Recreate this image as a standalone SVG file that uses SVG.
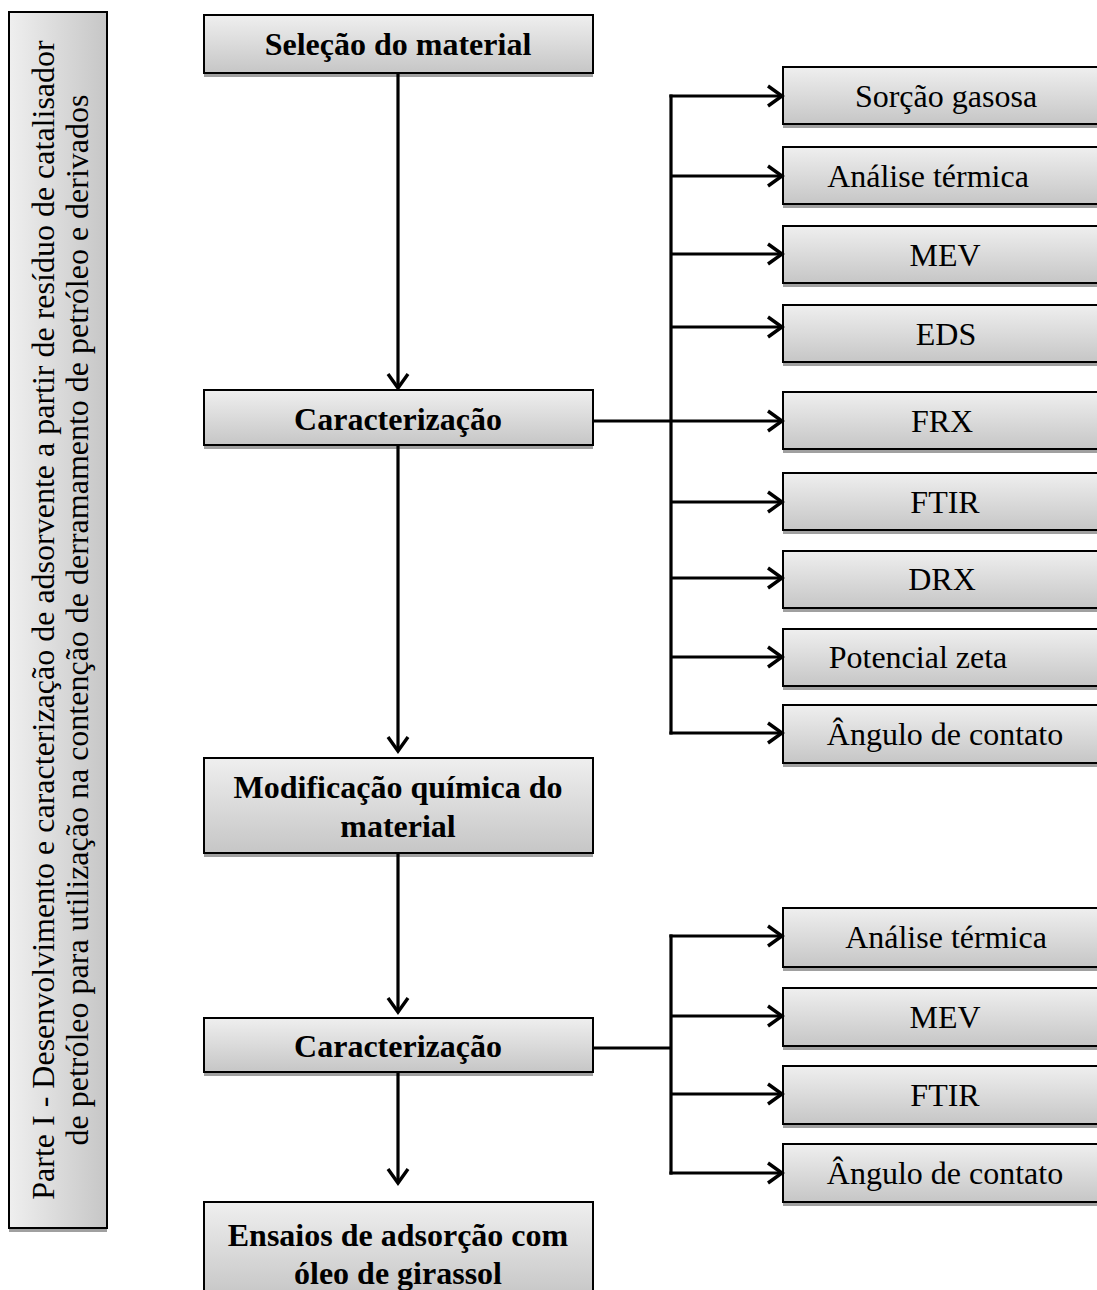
<svg xmlns="http://www.w3.org/2000/svg" width="1097" height="1290" viewBox="0 0 1097 1290">
  <defs>
    <linearGradient id="boxFill" x1="0" y1="0" x2="0" y2="1">
      <stop offset="0" stop-color="#efefef"/>
      <stop offset="1" stop-color="#c6c6c6"/>
    </linearGradient>
    <linearGradient id="sideFill" x1="0" y1="0" x2="1" y2="0">
      <stop offset="0" stop-color="#efefef"/>
      <stop offset="1" stop-color="#c6c6c6"/>
    </linearGradient>
    <marker id="chevron" markerUnits="userSpaceOnUse" viewBox="-17 -12 20 24" markerWidth="20" markerHeight="24" refX="0" refY="0" orient="auto">
      <path d="M-14,-10 L0,0 L-14,10" fill="none" stroke="#000" stroke-width="3.4" stroke-linejoin="miter"/>
    </marker>
  </defs>
  <style>
    .shadow { fill: #a0a0a0; }
    .box { fill: url(#boxFill); stroke: #000; stroke-width: 2; }
    .side { fill: url(#sideFill); stroke: #000; stroke-width: 2; }
    .bold { font-family: "Liberation Serif", "Times New Roman", serif; font-size: 32px; font-weight: bold; fill: #000; text-anchor: middle; }
    .reg { font-family: "Liberation Serif", "Times New Roman", serif; font-size: 32px; fill: #000; text-anchor: middle; }
    .conn { fill: none; stroke: #000; stroke-width: 3.2; }
    .arrow { fill: none; stroke: #000; stroke-width: 3.2; marker-end: url(#chevron); }
  </style>
  <rect width="1097" height="1290" fill="#fff"/>

  <!-- side title -->
  <g id="title">
    <rect class="shadow" x="9" y="16" width="98" height="1216"/>
    <rect class="side" x="9" y="12" width="98" height="1216"/>
    <text class="reg" font-size="32.3" transform="translate(54,620) rotate(-90)">Parte I - Desenvolvimento e caracterização de adsorvente a partir de resíduo de catalisador</text>
    <text class="reg" font-size="31.6" transform="translate(88,620) rotate(-90)">de petróleo para utilização na contenção de derramamento de petróleo e derivados</text>
  </g>

  <!-- main flow -->
  <g id="selecao">
    <rect class="shadow" x="204" y="19" width="389" height="58"/>
    <rect class="box" x="204" y="15" width="389" height="58"/>
    <text class="bold" x="398" y="55">Seleção do material</text>
  </g>
  <g id="caracterizacao1">
    <rect class="shadow" x="204" y="394" width="389" height="55"/>
    <rect class="box" x="204" y="390" width="389" height="55"/>
    <text class="bold" x="398" y="430">Caracterização</text>
  </g>
  <g id="modificacao">
    <rect class="shadow" x="204" y="762" width="389" height="95"/>
    <rect class="box" x="204" y="758" width="389" height="95"/>
    <text class="bold" x="398" y="798">Modificação química do</text>
    <text class="bold" x="398" y="837">material</text>
  </g>
  <g id="caracterizacao2">
    <rect class="shadow" x="204" y="1022" width="389" height="54"/>
    <rect class="box" x="204" y="1018" width="389" height="54"/>
    <text class="bold" x="398" y="1057">Caracterização</text>
  </g>
  <g id="ensaios">
    <rect class="shadow" x="204" y="1206" width="389" height="95"/>
    <rect class="box" x="204" y="1202" width="389" height="95"/>
    <text class="bold" x="398" y="1246">Ensaios de adsorção com</text>
    <text class="bold" x="398" y="1284">óleo de girassol</text>
  </g>

  <!-- techniques, first characterization -->
  <g id="t1-sorcao">
    <rect class="shadow" x="783" y="71" width="320" height="57"/>
    <rect class="box" x="783" y="67" width="320" height="57"/>
    <text class="reg" x="946" y="107">Sorção gasosa</text>
  </g>
  <g id="t1-termica">
    <rect class="shadow" x="783" y="151" width="320" height="57"/>
    <rect class="box" x="783" y="147" width="320" height="57"/>
    <text class="reg" x="928" y="187">Análise térmica</text>
  </g>
  <g id="t1-mev">
    <rect class="shadow" x="783" y="230" width="320" height="57"/>
    <rect class="box" x="783" y="226" width="320" height="57"/>
    <text class="reg" x="945" y="266">MEV</text>
  </g>
  <g id="t1-eds">
    <rect class="shadow" x="783" y="309" width="320" height="57"/>
    <rect class="box" x="783" y="305" width="320" height="57"/>
    <text class="reg" x="946" y="345">EDS</text>
  </g>
  <g id="t1-frx">
    <rect class="shadow" x="783" y="396" width="320" height="57"/>
    <rect class="box" x="783" y="392" width="320" height="57"/>
    <text class="reg" x="942" y="432">FRX</text>
  </g>
  <g id="t1-ftir">
    <rect class="shadow" x="783" y="477" width="320" height="57"/>
    <rect class="box" x="783" y="473" width="320" height="57"/>
    <text class="reg" x="945" y="513">FTIR</text>
  </g>
  <g id="t1-drx">
    <rect class="shadow" x="783" y="555" width="320" height="57"/>
    <rect class="box" x="783" y="551" width="320" height="57"/>
    <text class="reg" x="942" y="590">DRX</text>
  </g>
  <g id="t1-zeta">
    <rect class="shadow" x="783" y="633" width="320" height="57"/>
    <rect class="box" x="783" y="629" width="320" height="57"/>
    <text class="reg" x="918" y="668">Potencial zeta</text>
  </g>
  <g id="t1-angulo">
    <rect class="shadow" x="783" y="709" width="320" height="58"/>
    <rect class="box" x="783" y="705" width="320" height="58"/>
    <text class="reg" x="945" y="745">Ângulo de contato</text>
  </g>

  <!-- techniques, second characterization -->
  <g id="t2-termica">
    <rect class="shadow" x="783" y="912" width="320" height="59"/>
    <rect class="box" x="783" y="908" width="320" height="59"/>
    <text class="reg" x="946" y="948">Análise térmica</text>
  </g>
  <g id="t2-mev">
    <rect class="shadow" x="783" y="992" width="320" height="58"/>
    <rect class="box" x="783" y="988" width="320" height="58"/>
    <text class="reg" x="945" y="1028">MEV</text>
  </g>
  <g id="t2-ftir">
    <rect class="shadow" x="783" y="1070" width="320" height="58"/>
    <rect class="box" x="783" y="1066" width="320" height="58"/>
    <text class="reg" x="945" y="1106">FTIR</text>
  </g>
  <g id="t2-angulo">
    <rect class="shadow" x="783" y="1148" width="320" height="58"/>
    <rect class="box" x="783" y="1144" width="320" height="58"/>
    <text class="reg" x="945" y="1184">Ângulo de contato</text>
  </g>

  <!-- connectors -->
  <g id="connectors">
    <line class="arrow" x1="398" y1="74" x2="398" y2="388"/>
    <line class="arrow" x1="398" y1="446" x2="398" y2="751"/>
    <line class="arrow" x1="398" y1="854" x2="398" y2="1012"/>
    <line class="arrow" x1="398" y1="1073" x2="398" y2="1183"/>

    <line class="conn" x1="593" y1="421" x2="671" y2="421"/>
    <line class="conn" x1="671" y1="94.4" x2="671" y2="734.6"/>
    <line class="arrow" x1="669.4" y1="96" x2="782" y2="96"/>
    <line class="arrow" x1="671" y1="176" x2="782" y2="176"/>
    <line class="arrow" x1="671" y1="254" x2="782" y2="254"/>
    <line class="arrow" x1="671" y1="327" x2="782" y2="327"/>
    <line class="arrow" x1="671" y1="421" x2="782" y2="421"/>
    <line class="arrow" x1="671" y1="502" x2="782" y2="502"/>
    <line class="arrow" x1="671" y1="578" x2="782" y2="578"/>
    <line class="arrow" x1="671" y1="657" x2="782" y2="657"/>
    <line class="arrow" x1="669.4" y1="733" x2="782" y2="733"/>

    <line class="conn" x1="593" y1="1048" x2="671" y2="1048"/>
    <line class="conn" x1="671" y1="934.4" x2="671" y2="1174.6"/>
    <line class="arrow" x1="669.4" y1="936" x2="782" y2="936"/>
    <line class="arrow" x1="671" y1="1016" x2="782" y2="1016"/>
    <line class="arrow" x1="671" y1="1094" x2="782" y2="1094"/>
    <line class="arrow" x1="669.4" y1="1173" x2="782" y2="1173"/>
  </g>
</svg>
